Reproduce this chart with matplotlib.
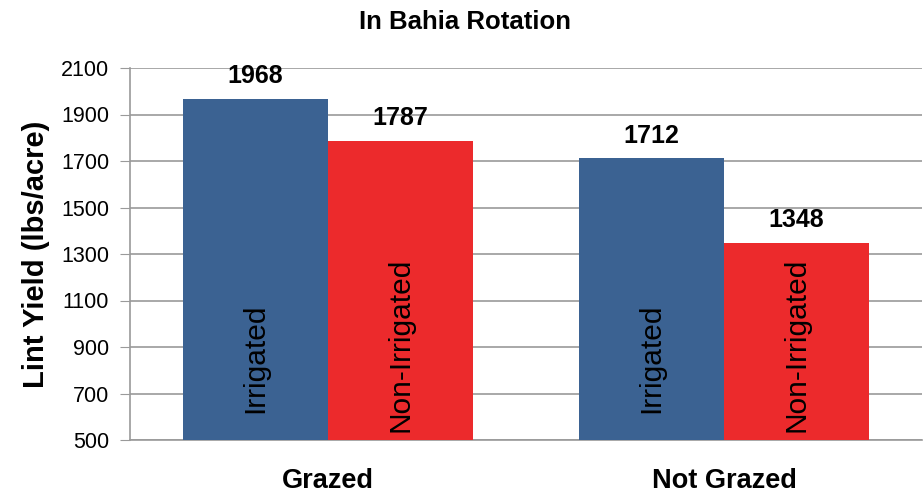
import matplotlib.pyplot as plt
import numpy as np

groups = ["Grazed", "Not Grazed"]
irrigated = [1968, 1712]
non_irrigated = [1787, 1348]
series_names = ["Irrigated", "Non-Irrigated"]
yticks = list(range(500, 2101, 200))

blue = "#3b6292"
red = "#ec2a2c"
grid_col = "#9a9a9a"

plt.rcParams['font.family'] = ['Liberation Sans', 'DejaVu Sans']

fig = plt.figure(figsize=(9.23, 4.96), dpi=100)
ax = fig.add_axes([130 / 923, 1 - 440 / 496, 792 / 923, 372 / 496])

x = np.arange(len(groups))
w = 0.366
b1 = ax.bar(x - w / 2, irrigated, w, color=blue, zorder=3)
b2 = ax.bar(x + w / 2, non_irrigated, w, color=red, zorder=3)

# in-bar label centres (data units), one per series
label_mid = [850, 910]

for bars, vals, name, mid in [(b1, irrigated, series_names[0], label_mid[0]),
                              (b2, non_irrigated, series_names[1], label_mid[1])]:
    for rect, v in zip(bars, vals):
        cx = rect.get_x() + rect.get_width() / 2
        ax.text(cx, v + 45, str(v), ha="center", va="bottom",
                fontsize=18, fontweight="bold", zorder=4)
        ax.text(cx, mid, name, ha="center", va="center", rotation=90,
                fontsize=21.5, zorder=4)

ax.set_xlim(-0.5, 1.5)
ax.set_ylim(500, 2100)
ax.set_yticks(yticks)
ax.set_yticklabels([str(t) for t in yticks], fontsize=15.5)
ax.set_xticks(x)
ax.set_xticklabels(groups, fontsize=19.5, fontweight="bold")
ax.tick_params(axis="x", length=0, pad=20)
ax.tick_params(axis="y", length=7, color=grid_col, pad=8)

ax.grid(axis="y", color=grid_col, linewidth=1.2, zorder=0)
ax.set_axisbelow(True)
for s in ["top", "right"]:
    ax.spines[s].set_visible(False)
ax.spines["left"].set_color(grid_col)
ax.spines["bottom"].set_color(grid_col)
ax.spines["left"].set_linewidth(1.2)
ax.spines["bottom"].set_linewidth(1.2)

ax.set_ylabel("Lint Yield (lbs/acre)", fontsize=21, fontweight="bold", labelpad=8)

fig.text(465 / 923, 1 - 22 / 496, "In Bahia Rotation", ha="center", va="center",
         fontsize=18.5, fontweight="bold")

fig.savefig("out.png", dpi=100)
